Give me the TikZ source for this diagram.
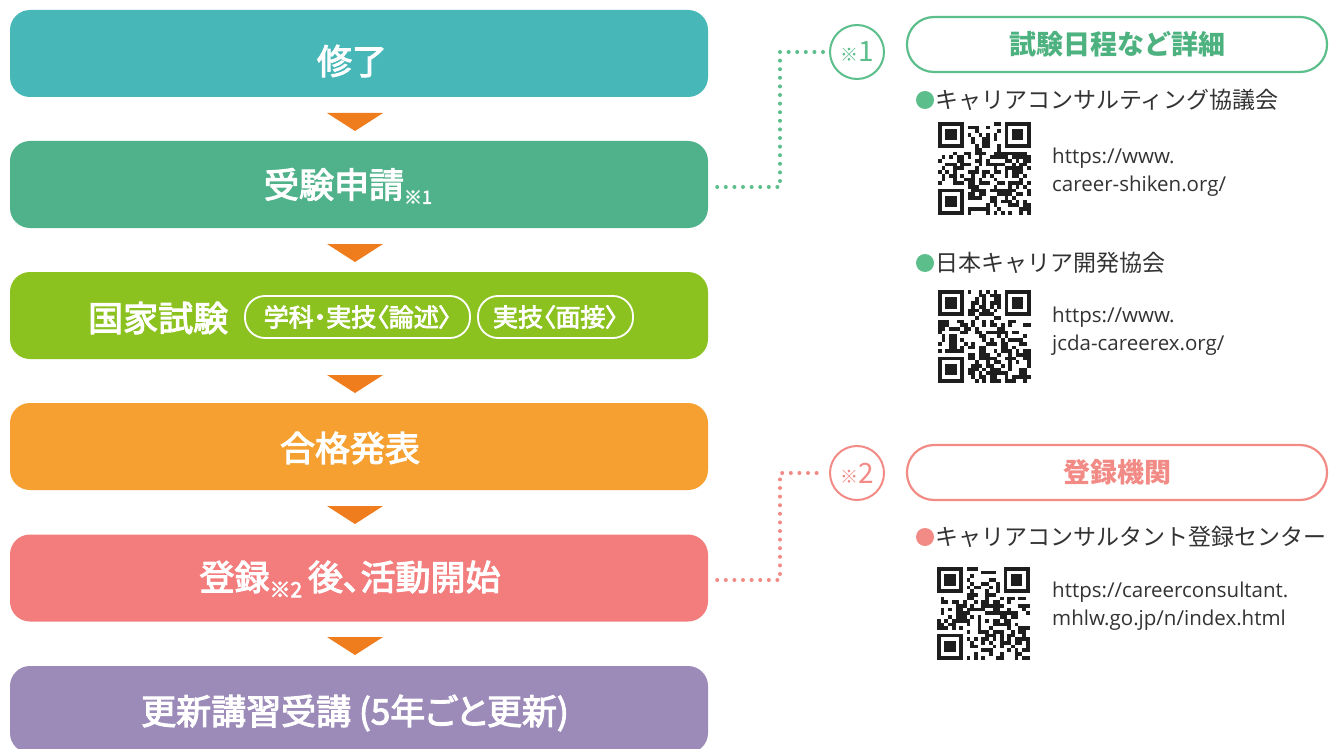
\documentclass[tikz,border=0pt]{standalone}
\usepackage{fontspec}
\setmainfont{Noto Sans CJK JP}
\newfontfamily\boxfont{Noto Sans CJK JP}[FakeBold=3, RawFeature={+palt}]
\newfontfamily\urlfont{Open Sans}
\usetikzlibrary{calc}
\definecolor{cteal}{HTML}{47B7B8}
\definecolor{cgreenbox}{HTML}{50B28A}
\definecolor{clime}{HTML}{8CC220}
\definecolor{corange}{HTML}{F5A030}
\definecolor{csalmon}{HTML}{F37D7D}
\definecolor{cpurple}{HTML}{9C8AB9}
\definecolor{carrow}{HTML}{EF7D1E}
\definecolor{cgreen}{HTML}{5CBE8B}
\definecolor{cgreentxt}{HTML}{4DB27F}
\definecolor{cpink}{HTML}{F28A85}
\definecolor{cdark}{HTML}{333333}
\definecolor{qrc}{HTML}{1E1E1E}
\newcommand\myfs[1]{\fontsize{#1}{#1}\selectfont}
\newcommand\myqr[3]{%
 \begin{scope}[shift={(#1,#2)}]
 \pgfmathsetseed{#3}
 \foreach \i in {0,...,24}{\foreach \j in {0,...,24}{%
   \pgfmathtruncatemacro\zz{((\i<8)&&(\j<8))||((\i>16)&&(\j<8))||((\i<8)&&(\j>16))}%
   \ifnum\zz=0
     \pgfmathrandominteger{\rr}{0}{9}%
     \ifnum\rr>4 \fill[qrc] (\i*3.7,\j*3.7) rectangle ++(3.75,3.75);\fi
   \fi
 }}
 \foreach \a/\b in {0/0,18/0,0/18}{%
   \fill[qrc] (\a*3.7,\b*3.7) rectangle ++(7*3.7,7*3.7);
   \fill[white] (\a*3.7+3.7,\b*3.7+3.7) rectangle ++(5*3.7,5*3.7);
   \fill[qrc] (\a*3.7+7.4,\b*3.7+7.4) rectangle ++(3*3.7,3*3.7);
 }
 \end{scope}}
\begin{document}
\begin{tikzpicture}[x=1pt,y=-1pt,
  flowbox/.style={rounded corners=20pt, minimum width=698pt, minimum height=87pt, inner sep=0pt},
  boxtext/.style={text=white, font=\boxfont\myfs{35}, inner sep=0pt},
  pill/.style={draw=white, line width=1.8pt, rounded corners=20pt, minimum height=42pt, inner sep=0pt, text=white, font=\boxfont\myfs{25}},
  arrowtri/.style={fill=carrow},
  gdot/.style={draw=cgreen, line width=4pt, line cap=round, dash pattern=on 0pt off 8.6pt},
  pdot/.style={draw=cpink, line width=4pt, line cap=round, dash pattern=on 0pt off 8.6pt},
  refcirc/.style={circle, line width=2pt, minimum size=54pt, inner sep=0pt},
  headpill/.style={line width=2.2pt, rounded corners=27pt, minimum width=420pt, minimum height=55pt, inner sep=0pt, font=\bfseries\myfs{27}},
  bullet/.style={circle, minimum size=18pt, inner sep=0pt},
  itemtext/.style={anchor=west, inner sep=0pt, text=cdark, font=\myfs{23}},
  urltext/.style={anchor=west, inner sep=0pt, text=cdark, align=left, font={\urlfont\fontsize{20.5}{28}\selectfont}}
]
\fill[white] (0,0) rectangle (1330,749);
\useasboundingbox (0,0) rectangle (1330,749);

% flow boxes
\node[flowbox, fill=cteal] (b1) at (359,53.5) {};
\node[flowbox, fill=cgreenbox] (b2) at (359,184.5) {};
\node[flowbox, fill=clime] (b3) at (359,315.5) {};
\node[flowbox, fill=corange] (b4) at (359,446.5) {};
\node[flowbox, fill=csalmon] (b5) at (359,578) {};
\node[flowbox, fill=cpurple] (b6) at (359,709.5) {};

% texts
\node[boxtext] (t1) at (352,61) {修了};
\node[boxtext] (t2) at (348,186) {受験申請\raisebox{-6pt}{\myfs{18}※1}};
\node[boxtext, anchor=west] (t3) at (88,318) {国家試験};
\node[pill, minimum width=225pt] (p1) at (357.5,317) {学科・実技〈論述〉};
\node[pill, minimum width=155pt] (p2) at (555.5,317) {実技〈面接〉};
\node[boxtext] (t4) at (350,448) {合格発表};
\node[boxtext] (t5) at (350,579) {登録\raisebox{-7pt}{\myfs{21}※2}\,後、活動開始};
\node[boxtext] (t6) at (355,713) {更新講習受講 (5年ごと更新)};

% arrows
\foreach \yy in {113,244,375,506,637}{
  \fill[arrowtri] (327,\yy) -- (383,\yy) -- (355,\yy+18) -- cycle;
}

% reference circles and headers
\node[refcirc, draw=cgreen, text=cgreen] (c1) at (857,52) {\myfs{18}※\myfs{28}1};
\node[headpill, draw=cgreen, text=cgreentxt] (h1) at (1117,44.5) {試験日程など詳細};
\node[refcirc, draw=cpink, text=cpink] (c2) at (857,473) {\myfs{18}※\myfs{28}2};
\node[headpill, draw=cpink, text=cpink] (h2) at (1117,472.5) {登録機関};

% dotted connectors
\coordinate (j1) at (780,52);
\coordinate (j2) at (780,473);
\draw[gdot] ([xshift=9pt,yshift=-2.5pt]b2.east) -| (j1) -- ([xshift=-5pt]c1.west);
\draw[pdot] ([xshift=9pt,yshift=-2pt]b5.east) -| (j2) -- ([xshift=-5pt]c2.west);

% items
\node[bullet, fill=cgreen] (d1) at (925,100) {};
\node[itemtext] (i1) at (935,100) {キャリアコンサルティング協議会};
\myqr{938}{122}{11}
\node[urltext] (u1) at (1052,172) {https://www.\\career-shiken.org/};

\node[bullet, fill=cgreen] (d2) at (925,263) {};
\node[itemtext] (i2) at (935,263) {日本キャリア開発協会};
\myqr{938}{290}{27}
\node[urltext] (u2) at (1052,331) {https://www.\\jcda-careerex.org/};

\node[bullet, fill=cpink] (d3) at (925,537) {};
\node[itemtext] (i3) at (935,537) {キャリアコンサルタント登録センター};
\myqr{937}{567}{53}
\node[urltext] (u3) at (1052,606) {https://careerconsultant.\\mhlw.go.jp/n/index.html};
\end{tikzpicture}
\end{document}
